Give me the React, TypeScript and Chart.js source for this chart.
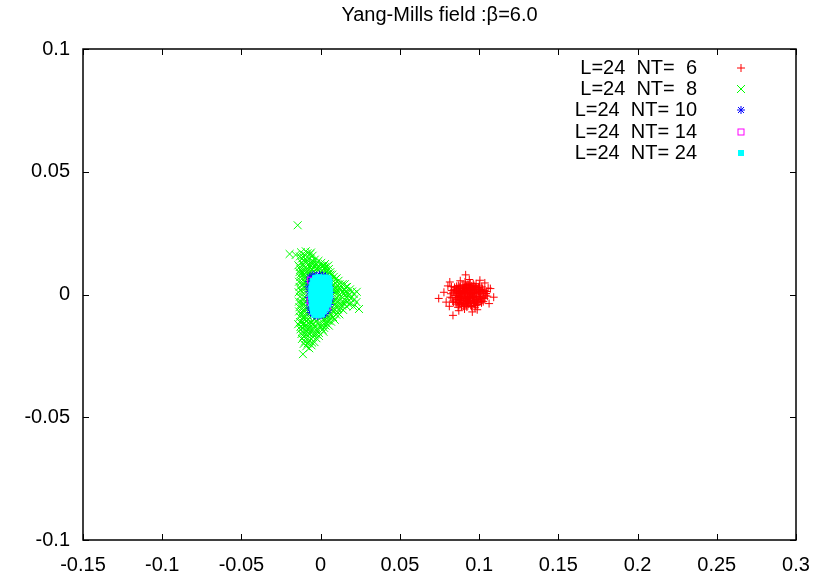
import React, { useEffect, useRef } from 'react';
import { Chart, registerables } from 'chart.js';

Chart.register(...registerables);

const titleText = 'Yang-Mills field :\u03B2=6.0';
const xTicks = [-0.15, -0.1, -0.05, 0, 0.05, 0.1, 0.15, 0.2, 0.25, 0.3];
const xTickLabels = ['-0.15', '-0.1', '-0.05', '0', '0.05', '0.1', '0.15', '0.2', '0.25', '0.3'];
const yTicks = [-0.1, -0.05, 0, 0.05, 0.1];
const yTickLabels = ['-0.1', '-0.05', '0', '0.05', '0.1'];
const seriesLabels = ['L=24  NT=  6', 'L=24  NT=  8', 'L=24  NT= 10', 'L=24  NT= 14', 'L=24  NT= 24'];
const seriesColors = ['#ff0000', '#00ff00', '#0000ff', '#ff00ff', '#00ffff'];

const nt6: [number, number][] = [
  [0.0930, 0.0005], [0.0905, 0.0012], [0.0958, -0.0008], [0.0878, -0.0019], [0.0992, 0.0021], [0.0921, 0.0031], [0.0947, -0.0027], [0.0869, 0.0017], [0.1011, 0.0002], [0.0848, -0.0004],
  [0.0912, -0.0038], [0.0968, 0.0036], [0.0941, 0.0011], [0.0889, -0.0009], [0.0983, -0.0021], [0.0861, -0.0031], [0.1003, 0.0027], [0.0927, -0.0017], [0.0898, 0.0039], [0.1024, -0.0012],
  [0.0837, 0.0009], [0.0962, 0.0018], [0.0918, -0.0006], [0.0881, 0.0028], [0.0989, -0.0041], [0.0944, 0.0046], [0.0872, -0.0043], [0.1032, 0.0016], [0.0909, 0.0022], [0.0951, 0.0001],
  [0.0893, -0.0002], [0.0972, -0.0013], [0.0934, 0.0029], [0.0857, 0.0011], [0.1006, -0.0029], [0.0923, -0.0051], [0.0979, 0.0008], [0.0901, -0.0027], [0.1041, -0.0003], [0.0829, -0.0014],
  [0.0916, 0.0007], [0.0955, -0.0036], [0.0884, 0.0004], [0.0996, 0.0012], [0.0939, -0.0011], [0.0866, 0.0024], [0.1017, 0.0031], [0.0903, -0.0048], [0.0974, 0.0026], [0.0852, -0.0022],
  [0.0937, 0.0019], [0.0895, 0.0015], [0.0961, -0.0019], [0.0876, -0.0033], [0.1009, -0.0017], [0.0929, 0.0041], [0.0984, -0.0031], [0.0843, 0.0021], [0.0947, -0.0044], [0.1028, 0.0007],
  [0.0913, -0.0013], [0.0969, 0.0009], [0.0887, -0.0025], [0.0951, 0.0034], [0.0906, 0.0031], [0.0995, -0.0008], [0.0834, -0.0027], [0.1048, 0.0012], [0.0924, -0.0029], [0.0866, -0.0012],
  [0.0942, 0.0022], [0.0978, -0.0045], [0.0899, 0.0006], [0.1019, -0.0023], [0.0858, 0.0033], [0.0931, -0.0039], [0.0963, 0.0043], [0.0891, -0.0041], [0.1001, 0.0038], [0.0822, 0.0003],
  [0.0925, -0.0001], [0.0911, 0.0017], [0.0944, -0.0016], [0.0897, -0.0034], [0.0971, 0.0015], [0.0883, 0.0012], [0.0958, 0.0025], [0.0919, -0.0044], [0.0986, -0.0015], [0.0862, 0.0002],
  [0.1013, 0.0011], [0.0874, -0.0008], [0.0936, 0.0037], [0.0965, -0.0029], [0.0903, 0.0026], [0.0849, 0.0014], [0.0992, -0.0034], [0.0927, 0.0013], [0.0889, -0.0048], [0.1021, 0.0021],
  [0.0954, 0.0009], [0.0914, -0.0024], [0.0979, 0.0032], [0.0868, -0.0021], [0.1004, -0.0009], [0.0941, -0.0033], [0.0893, 0.0023], [0.0966, -0.0005], [0.0855, -0.0039], [0.1033, -0.0016],
  [0.0921, 0.0024], [0.0948, 0.0017], [0.0879, 0.0032], [0.0982, 0.0002], [0.0907, -0.0017], [0.0933, -0.0025], [0.0971, -0.0037], [0.0845, 0.0029], [0.1015, -0.0034], [0.0961, 0.0031],
  [0.0898, -0.0011], [0.0939, 0.0003], [0.0876, 0.0009], [0.0997, 0.0029], [0.0918, 0.0036], [0.0952, -0.0049], [0.0827, 0.0016], [0.1044, 0.0004], [0.0909, 0.0008], [0.0975, -0.0024],
  [0.0886, -0.0037], [0.0926, -0.0034], [0.0962, 0.0004], [0.0869, 0.0037], [0.1008, 0.0015], [0.0943, 0.0028], [0.0902, 0.0017], [0.0985, 0.0019], [0.0859, -0.0014], [0.1026, -0.0029],
  [0.0932, -0.0007], [0.0915, 0.0042], [0.0957, -0.0013], [0.0882, -0.0015], [0.0993, -0.0022], [0.0947, 0.0007], [0.0871, 0.0005], [0.1002, 0.0005], [0.0921, -0.0022], [0.0968, 0.0022],
  [0.0839, -0.0032], [0.1052, -0.0007], [0.0818, -0.0011], [0.1057, 0.0026], [0.0825, 0.0032], [0.0867, -0.0052], [0.0981, 0.0044], [0.0911, 0.0051], [0.0974, -0.0054], [0.0908, -0.0059],
  [0.0745, -0.0016], [0.0778, 0.0009], [0.0792, -0.0031], [0.0803, 0.0035], [0.1092, -0.0011], [0.1071, 0.0024], [0.1063, -0.0037], [0.0915, 0.0080], [0.0938, 0.0061], [0.0835, -0.0085],
  [0.0872, -0.0066], [0.0988, -0.0062], [0.1036, 0.0047], [0.0881, 0.0056], [0.0812, -0.0048], [0.1005, 0.0058], [0.0957, -0.0071], [0.0815, 0.0051],
];

const nt8: [number, number][] = [
  [-0.0145, 0.0282], [-0.0196, 0.0165], [-0.0124, 0.0172], [-0.0083, 0.0168], [-0.0051, 0.0158],
  [-0.0109, 0.0151], [-0.0068, 0.0147], [-0.0037, 0.0142], [-0.0121, 0.0131], [-0.0088, 0.0128], [-0.0059, 0.0134], [-0.0027, 0.0126], [0.0004, 0.0129],
  [-0.0132, 0.0112], [-0.0101, 0.0108], [-0.0072, 0.0115], [-0.0043, 0.0107], [-0.0012, 0.0111], [0.0021, 0.0104], [0.0048, 0.0118],
  [-0.0118, 0.0092], [-0.0091, 0.0088], [-0.0063, 0.0095], [-0.0034, 0.0089], [0.0003, 0.0093], [0.0032, 0.0087], [0.0061, 0.0091],
  [-0.0129, 0.0071], [-0.0102, 0.0074], [-0.0079, 0.0068], [-0.0052, 0.0076], [0.0019, 0.0079], [0.0054, 0.0069], [0.0083, 0.0072],
  [-0.0121, 0.0052], [-0.0097, 0.0048], [-0.0076, 0.0055], [0.0062, 0.0051], [0.0091, 0.0047], [0.0113, 0.0056],
  [-0.0133, 0.0031], [-0.0104, 0.0028], [-0.0081, 0.0034], [0.0071, 0.0032], [0.0098, 0.0027], [0.0128, 0.0035], [0.0157, 0.0029],
  [-0.0119, 0.0011], [-0.0092, 0.0008], [0.0079, 0.0013], [0.0108, 0.0007], [0.0139, 0.0012], [0.0171, 0.0006], [0.0228, 0.0011],
  [-0.0131, -0.0009], [-0.0099, -0.0012], [0.0069, -0.0008], [0.0102, -0.0013], [0.0131, -0.0007], [0.0162, -0.0011], [0.0189, -0.0016],
  [-0.0122, -0.0031], [-0.0091, -0.0028], [0.0081, -0.0033], [0.0112, -0.0027], [0.0143, -0.0034], [0.0172, -0.0029],
  [-0.0134, -0.0052], [-0.0101, -0.0048], [-0.0078, -0.0055], [0.0072, -0.0051], [0.0099, -0.0047], [0.0129, -0.0056], [0.0242, -0.0059], [0.0207, -0.0049],
  [-0.0118, -0.0071], [-0.0089, -0.0074], [-0.0068, -0.0069], [0.0052, -0.0072], [0.0081, -0.0068], [0.0109, -0.0075],
  [-0.0131, -0.0091], [-0.0102, -0.0088], [-0.0071, -0.0094], [-0.0038, -0.0097], [0.0004, -0.0093], [0.0041, -0.0089], [0.0078, -0.0092],
  [-0.0119, -0.0112], [-0.0088, -0.0108], [-0.0058, -0.0114], [-0.0027, -0.0109], [0.0012, -0.0113], [0.0049, -0.0107],
  [-0.0128, -0.0131], [-0.0097, -0.0128], [-0.0069, -0.0134], [-0.0038, -0.0129], [0.0001, -0.0132], [0.0031, -0.0127],
  [-0.0117, -0.0151], [-0.0089, -0.0148], [-0.0062, -0.0155], [-0.0021, -0.0149], [0.0018, -0.0152],
  [-0.0108, -0.0171], [-0.0079, -0.0168], [-0.0048, -0.0174], [-0.0011, -0.0169],
  [-0.0098, -0.0191], [-0.0071, -0.0188], [-0.0039, -0.0194],
  [-0.0091, -0.0211], [-0.0058, -0.0207], [-0.0112, -0.0243],
  [-0.0111, 0.0121], [-0.0079, 0.0101], [-0.0052, 0.0122], [-0.0018, 0.0099], [0.0017, 0.0115], [0.0041, 0.0097], [-0.0126, 0.0083], [-0.0092, 0.0061],
  [-0.0113, 0.0041], [-0.0127, 0.0019], [-0.0114, -0.0019], [-0.0125, -0.0041], [-0.0109, -0.0062], [-0.0123, -0.0081], [-0.0096, -0.0101], [-0.0111, -0.0122],
  [-0.0127, -0.0142], [-0.0103, -0.0159], [-0.0118, -0.0181], [0.0092, 0.0061], [0.0119, 0.0042], [0.0148, 0.0018], [0.0151, -0.0021], [0.0121, -0.0041],
  [0.0089, -0.0061], [0.0065, -0.0083], [0.0031, -0.0101], [-0.0052, -0.0122], [0.0061, 0.0081], [0.0078, 0.0021], [0.0088, -0.0019], [-0.0067, -0.0142],
  [-0.0031, -0.0162], [0.0022, -0.0136], [0.0102, 0.0019], [0.0185, 0.0021], [0.0194, -0.0034],
  [-0.0102, 0.0162], [-0.0067, 0.0164], [-0.0131, 0.0155], [-0.0088, 0.0141], [-0.0045, 0.0133], [-0.0014, 0.0137], [-0.0107, 0.0137], [-0.0074, 0.0124], [-0.0036, 0.0118], [0.0007, 0.0116],
  [-0.0128, 0.0102], [-0.0096, 0.0097], [-0.0058, 0.0102], [-0.0025, 0.0106], [0.0029, 0.0112], [0.0052, 0.0104], [-0.0109, 0.0081], [-0.0071, 0.0084], [-0.0042, 0.0096], [0.0018, 0.0091],
  [0.0046, 0.0084], [0.0073, 0.0081], [0.0069, 0.0062], [0.0101, 0.0066], [0.0082, 0.0042], [0.0106, 0.0038], [0.0138, 0.0042], [0.0124, 0.0024], [0.0162, 0.0014], [0.0094, 0.0009],
  [0.0119, -0.0002], [0.0146, 0.0003], [0.0177, -0.0004], [0.0208, 0.0002], [0.0086, -0.0026], [0.0127, -0.0019], [0.0158, -0.0026], [0.0181, -0.0041], [0.0094, -0.0039], [0.0136, -0.0046],
  [0.0111, -0.0061], [0.0074, -0.0063], [0.0098, -0.0082], [0.0059, -0.0094], [0.0021, -0.0099], [0.0066, -0.0111], [0.0036, -0.0118], [0.0011, -0.0124], [-0.0016, -0.0122], [-0.0043, -0.0118],
  [-0.0076, -0.0119], [-0.0104, -0.0117], [-0.0131, -0.0112], [-0.0081, -0.0101], [-0.0111, -0.0097], [-0.0136, -0.0069], [-0.0097, -0.0061], [-0.0084, -0.0084], [-0.0137, -0.0029], [-0.0106, -0.0038],
  [-0.0083, -0.0021], [-0.0088, 0.0019], [-0.0139, 0.0009], [-0.0106, 0.0062], [-0.0137, 0.0052], [-0.0085, 0.0043], [-0.0134, 0.0091], [-0.0051, -0.0141], [-0.0022, -0.0139], [0.0011, -0.0143],
  [-0.0086, -0.0139], [-0.0113, -0.0136], [-0.0078, -0.0158], [-0.0045, -0.0161], [-0.0011, -0.0157], [-0.0094, -0.0179], [-0.0062, -0.0181], [-0.0027, -0.0178], [-0.0082, -0.0199], [-0.0054, -0.0196],
  [-0.0107, -0.0201], [-0.0072, -0.0219], [-0.0121, -0.0161], [-0.0142, -0.0121], [-0.0141, 0.0119], [-0.0119, 0.0146], [-0.0158, 0.0161], [-0.0094, 0.0176], [-0.0061, 0.0171], [0.0027, 0.0124],
  [0.0213, -0.0019], [0.0226, -0.0031], [0.0198, 0.0012], [0.0167, 0.0031], [0.0152, 0.0042], [0.0163, -0.0048], [0.0142, -0.0063], [0.0118, -0.0081], [0.0089, -0.0103], [0.0052, -0.0127],
];

const nt10: [number, number][] = [
  [-0.0068, 0.0071], [-0.0049, 0.0079], [-0.0028, 0.0076], [-0.0008, 0.0081], [0.0012, 0.0077], [0.0031, 0.0074], [-0.0073, 0.0052], [-0.0077, 0.0031],
  [-0.0071, 0.0011], [-0.0075, -0.0012], [-0.0072, -0.0034], [-0.0069, -0.0055], [-0.0063, -0.0074], [-0.0041, -0.0086], [-0.0018, -0.0089], [0.0008, -0.0084],
  [0.0029, -0.0078], [0.0047, -0.0063], [0.0058, -0.0041], [0.0063, -0.0018], [0.0061, 0.0008], [0.0057, 0.0031], [0.0049, 0.0056], [-0.0031, 0.0042],
  [0.0011, 0.0021], [-0.0022, -0.0018], [0.0019, -0.0044], [-0.0047, 0.0001], [0.0035, 0.0002], [-0.0012, 0.0055],
];

const nt14: [number, number][] = [
  [-0.0064, 0.0058], [-0.0066, -0.0026], [-0.0041, -0.0071], [0.0038, 0.0054], [0.0044, -0.0048],
  [0.0012, -0.0066], [-0.0021, 0.0063], [0.0009, 0.0061], [-0.0015, 0.0013], [0.0023, -0.0021],
];

const nt24: [number, number][] = [
  [-0.0031, 0.0066], [-0.0011, 0.0068], [0.0009, 0.0065], [0.0029, 0.0067], [0.0046, 0.0064],
  [-0.0046, 0.0052], [-0.0027, 0.0050], [-0.0006, 0.0053], [0.0014, 0.0051], [0.0034, 0.0054], [0.0052, 0.0050],
  [-0.0053, 0.0037], [-0.0033, 0.0039], [-0.0012, 0.0036], [0.0008, 0.0038], [0.0028, 0.0035], [0.0049, 0.0037],
  [-0.0055, 0.0022], [-0.0035, 0.0020], [-0.0015, 0.0023], [0.0006, 0.0021], [0.0026, 0.0024], [0.0047, 0.0022], [0.0056, 0.0019],
  [-0.0054, 0.0007], [-0.0034, 0.0009], [-0.0013, 0.0006], [0.0007, 0.0008], [0.0027, 0.0005], [0.0049, 0.0007],
  [-0.0056, -0.0008], [-0.0036, -0.0006], [-0.0016, -0.0009], [0.0004, -0.0007], [0.0025, -0.0010], [0.0046, -0.0008], [0.0055, -0.0005],
  [-0.0053, -0.0023], [-0.0033, -0.0021], [-0.0012, -0.0024], [0.0008, -0.0022], [0.0028, -0.0025], [0.0049, -0.0023],
  [-0.0052, -0.0038], [-0.0032, -0.0036], [-0.0011, -0.0039], [0.0009, -0.0037], [0.0029, -0.0040], [0.0045, -0.0038],
  [-0.0049, -0.0053], [-0.0029, -0.0051], [-0.0008, -0.0054], [0.0012, -0.0052], [0.0032, -0.0055],
  [-0.0044, -0.0068], [-0.0024, -0.0066], [-0.0004, -0.0069], [0.0016, -0.0067],
  [-0.0036, -0.0080], [-0.0016, -0.0082], [0.0004, -0.0079],
];

const FONT = '"Liberation Sans", Arial, Helvetica, sans-serif';

function drawMarker(ctx: CanvasRenderingContext2D, kind: number, x: number, y: number, color: string) {
  ctx.save();
  ctx.strokeStyle = color;
  ctx.fillStyle = color;
  ctx.lineWidth = 1;
  ctx.beginPath();
  if (kind === 0) {
    ctx.moveTo(x - 4, y); ctx.lineTo(x + 4, y);
    ctx.moveTo(x, y - 4); ctx.lineTo(x, y + 4);
    ctx.stroke();
  } else if (kind === 1) {
    ctx.moveTo(x - 4, y - 4); ctx.lineTo(x + 4, y + 4);
    ctx.moveTo(x - 4, y + 4); ctx.lineTo(x + 4, y - 4);
    ctx.stroke();
  } else if (kind === 2) {
    ctx.moveTo(x - 4, y); ctx.lineTo(x + 4, y);
    ctx.moveTo(x, y - 4); ctx.lineTo(x, y + 4);
    ctx.moveTo(x - 3, y - 3); ctx.lineTo(x + 3, y + 3);
    ctx.moveTo(x - 3, y + 3); ctx.lineTo(x + 3, y - 3);
    ctx.stroke();
  } else if (kind === 3) {
    ctx.strokeRect(x - 3, y - 3, 6, 6);
  } else {
    ctx.fillRect(x - 3, y - 3, 6, 6);
  }
  ctx.restore();
}

const framePlugin = {
  id: 'gnuplotFrame',
  afterDatasetsDraw(chart: any) {
    const ctx: CanvasRenderingContext2D = chart.ctx;
    const a = chart.chartArea;
    const xs = chart.scales.x;
    const ys = chart.scales.y;
    ctx.save();
    ctx.strokeStyle = '#000';
    ctx.lineWidth = 1;
    const tl = 6;
    ctx.beginPath();
    xTicks.forEach((v) => {
      const px = Math.round(xs.getPixelForValue(v)) + 0.5;
      ctx.moveTo(px, a.bottom); ctx.lineTo(px, a.bottom - tl);
      ctx.moveTo(px, a.top); ctx.lineTo(px, a.top + tl);
    });
    yTicks.forEach((v) => {
      const py = Math.round(ys.getPixelForValue(v)) + 0.5;
      ctx.moveTo(a.left, py); ctx.lineTo(a.left + tl, py);
      ctx.moveTo(a.right, py); ctx.lineTo(a.right - tl, py);
    });
    ctx.stroke();
    ctx.lineWidth = 1.5;
    ctx.strokeRect(a.left, a.top, a.right - a.left, a.bottom - a.top);

    ctx.fillStyle = '#000';
    ctx.font = `20px ${FONT}`;
    ctx.textAlign = 'center';
    ctx.textBaseline = 'middle';
    ctx.fillText(titleText, (a.left + a.right) / 2, 15);

    const rowsY = [68, 89, 110, 132, 153];
    ctx.textAlign = 'right';
    seriesLabels.forEach((lab, i) => {
      ctx.fillStyle = '#000';
      ctx.fillText(lab, 697, rowsY[i]);
      drawMarker(ctx, i, 741, rowsY[i], seriesColors[i]);
    });
    ctx.restore();
  },
};

function toXY(pts: [number, number][]) {
  return pts.map(([x, y]) => ({ x, y }));
}

export default function App() {
  const ref = useRef<HTMLCanvasElement>(null);
  useEffect(() => {
    const canvas = ref.current;
    if (!canvas) return;
    const styles = ['cross', 'crossRot', 'star', 'rect', 'rect'];
    const radii = [4, 5.6, 4, 4.2, 4.4];
    const series = [nt6, nt8, nt10, nt14, nt24];
    const datasets = series.map((pts, i) => ({
      label: seriesLabels[i],
      data: toXY(pts),
      pointStyle: styles[i],
      pointRadius: radii[i],
      borderColor: seriesColors[i],
      backgroundColor: i === 4 ? seriesColors[i] : 'rgba(0,0,0,0)',
      borderWidth: 1,
      showLine: false,
      order: 4 - i,
    }));
    const chart = new Chart(canvas, {
      type: 'scatter',
      data: { datasets: datasets as any },
      options: {
        responsive: false,
        animation: false,
        events: [],
        layout: { padding: { top: 49, right: 30, left: 0, bottom: 0 } },
        plugins: {
          legend: { display: false },
          title: { display: false },
          tooltip: { enabled: false },
        },
        scales: {
          x: {
            type: 'linear',
            min: -0.15,
            max: 0.3,
            afterBuildTicks: (s: any) => { s.ticks = xTicks.map((v) => ({ value: v })); },
            afterFit: (s: any) => { s.height = 34; },
            ticks: {
              callback: (_v: any, i: number) => xTickLabels[i],
              font: { family: FONT, size: 20 },
              color: '#000',
              padding: 13,
              maxRotation: 0,
              autoSkip: false,
            },
            grid: { display: false, drawTicks: false },
            border: { display: false },
          },
          y: {
            type: 'linear',
            min: -0.1,
            max: 0.1,
            afterBuildTicks: (s: any) => { s.ticks = yTicks.map((v) => ({ value: v })); },
            afterFit: (s: any) => { s.width = 83; },
            ticks: {
              callback: (_v: any, i: number) => yTickLabels[i],
              font: { family: FONT, size: 20 },
              color: '#000',
              padding: 13,
              autoSkip: false,
            },
            grid: { display: false, drawTicks: false },
            border: { display: false },
          },
        },
      },
      plugins: [framePlugin],
    });
    return () => chart.destroy();
  }, []);
  return (
    <div style={{ position: 'fixed', left: 0, top: 0, width: 826, height: 574, background: '#fff' }}>
      <canvas ref={ref} width={826} height={574} style={{ width: 826, height: 574, display: 'block' }} />
    </div>
  );
}
